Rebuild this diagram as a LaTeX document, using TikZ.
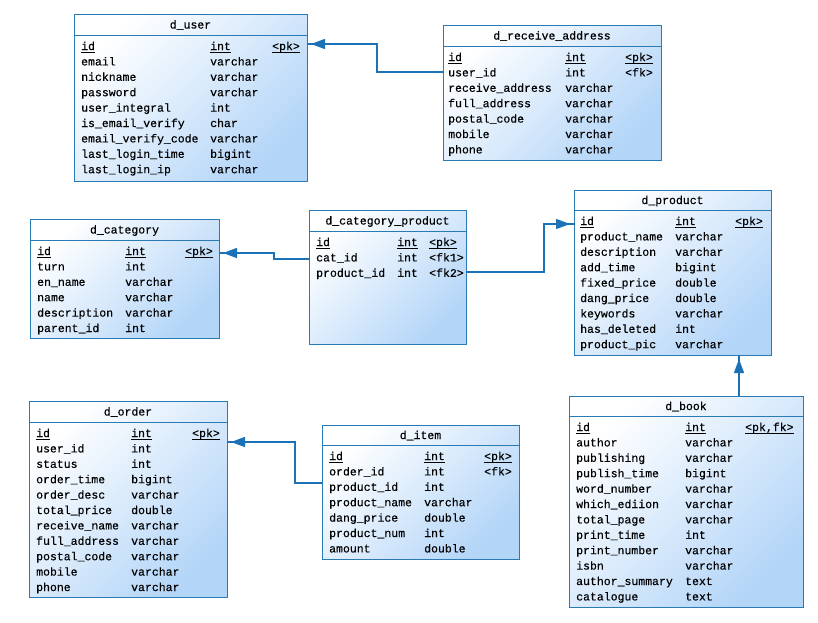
\documentclass[tikz,border=0pt]{standalone}
\usepackage{fontspec}
\setmonofont{Liberation Mono}
\usetikzlibrary{arrows.meta}
\newfontfamily\erfont[FakeBold=0.3]{Liberation Mono}

\definecolor{bordc}{HTML}{2A7AB5}
\definecolor{fillc}{HTML}{B3D5F8}
\definecolor{linec}{HTML}{1B72B6}

% key column text with a rule just under the baseline
\newcommand\keyul[1]{\setbox0\hbox{#1}\rlap{\rule[-2.4pt]{\wd0}{0.6pt}}\box0}

\tikzset{
  tbl/.style={draw=bordc, line width=0.9pt, top color=white, bottom color=fillc,
    shading angle=45, anchor=north west, inner sep=0pt, outer sep=0pt},
  sepline/.style={draw=bordc, line width=0.9pt},
  cell/.style={anchor=base west, inner sep=0pt, font=\erfont\fontsize{11.5}{12}\selectfont},
  ttl/.style={anchor=base, inner sep=0pt, font=\erfont\fontsize{11.5}{12}\selectfont},
  conn/.style={draw=linec, line width=1.4pt,
    postaction={draw=linec, -{Triangle[length=14pt,width=10pt]}, shorten >=4pt}},
}

% box, header rule and title of one table
% #1 name, #2 x1, #3 y1, #4 x2, #5 y2, #6 header rule y, #7 title
\newcommand\ertable[7]{%
  \node[tbl, minimum width={#4-#2}, minimum height={#5-#3}] (#1) at (#2,#3) {};
  \draw[sepline] (#2,#6) -- (#4,#6);
  \node[ttl] (#1-title) at ({(#2+#4)/2},{(#3+#6)/2+4}) {#7};
}

% column rows of one table
% #1 name, #2 x of names, #3 x of types, #4 x of keys, #5 y of first row, #6 rows
\newcommand\errows[6]{%
  \foreach \n/\t/\k [count=\i from 0] in {#6} {
    \node[cell] (#1-n\i) at (#2,{#5+15.4*\i+4}) {\n};
    \node[cell] (#1-t\i) at (#3,{#5+15.4*\i+4}) {\t};
    \if\relax\detokenize\expandafter{\k}\relax\else
      \node[cell] (#1-k\i) at (#4,{#5+15.4*\i+4}) {\k};
    \fi
  }
}

\begin{document}
\begin{tikzpicture}[x=1pt,y=-1pt]
\useasboundingbox (0,0) rectangle (818,622);

% d_user
\ertable{user}{74}{14}{307}{181}{35}{d\_user}
\errows{user}{81}{210}{272}{46}{%
  \keyul{id}/\keyul{int}/\keyul{<pk>},
  email/varchar/,
  nickname/varchar/,
  password/varchar/,
  user\_integral/int/,
  is\_email\_verify/char/,
  email\_verify\_code/varchar/,
  last\_login\_time/bigint/,
  last\_login\_ip/varchar/}

% d_receive_address
\ertable{addr}{443}{25}{661}{160}{46}{d\_receive\_address}
\errows{addr}{448}{565}{625}{57}{%
  \keyul{id}/\keyul{int}/\keyul{<pk>},
  user\_id/int/<fk>,
  receive\_address/varchar/,
  full\_address/varchar/,
  postal\_code/varchar/,
  mobile/varchar/,
  phone/varchar/}

% d_category
\ertable{cat}{30}{219}{219}{338}{240}{d\_category}
\errows{cat}{37}{125}{185}{251}{%
  \keyul{id}/\keyul{int}/\keyul{<pk>},
  turn/int/,
  en\_name/varchar/,
  name/varchar/,
  description/varchar/,
  parent\_id/int/}

% d_category_product
\ertable{catprod}{309}{210}{466}{344}{231}{d\_category\_product}
\errows{catprod}{316}{397}{429}{242}{%
  \keyul{id}/\keyul{int}/\keyul{<pk>},
  cat\_id/int/<fk1>,
  product\_id/int/<fk2>}

% d_product
\ertable{prod}{574}{190}{771}{355}{210}{d\_product}
\errows{prod}{580}{675}{735}{221}{%
  \keyul{id}/\keyul{int}/\keyul{<pk>},
  product\_name/varchar/,
  description/varchar/,
  add\_time/bigint/,
  fixed\_price/double/,
  dang\_price/double/,
  keywords/varchar/,
  has\_deleted/int/,
  product\_pic/varchar/}

% d_order
\ertable{order}{29}{401}{227}{597}{422}{d\_order}
\errows{order}{36}{131}{192}{433}{%
  \keyul{id}/\keyul{int}/\keyul{<pk>},
  user\_id/int/,
  status/int/,
  order\_time/bigint/,
  order\_desc/varchar/,
  total\_price/double/,
  receive\_name/varchar/,
  full\_address/varchar/,
  postal\_code/varchar/,
  mobile/varchar/,
  phone/varchar/}

% d_item
\ertable{item}{322}{425}{519}{559}{445}{d\_item}
\errows{item}{329}{424}{484}{456}{%
  \keyul{id}/\keyul{int}/\keyul{<pk>},
  order\_id/int/<fk>,
  product\_id/int/,
  product\_name/varchar/,
  dang\_price/double/,
  product\_num/int/,
  amount/double/}

% d_book
\ertable{book}{569}{396}{803}{607}{416}{d\_book}
\errows{book}{576}{685}{745}{427}{%
  \keyul{id}/\keyul{int}/\keyul{<pk,fk>},
  author/varchar/,
  publishing/varchar/,
  publish\_time/bigint/,
  word\_number/varchar/,
  which\_ediion/varchar/,
  total\_page/varchar/,
  print\_time/int/,
  print\_number/varchar/,
  isbn/varchar/,
  author\_summary/text/,
  catalogue/text/}

% references
\draw[conn] (addr.west |- 0,72) -- (377,72) -- (377,44) -- (user.east |- 0,44);
\draw[conn] (catprod.west |- 0,259) -- (274,259) -- (274,253) -- (cat.east |- 0,253);
\draw[conn] (catprod.east |- 0,272) -- (544,272) -- (544,224) -- (prod.west |- 0,224);
\draw[conn] (book.north -| 739,0) -- (prod.south -| 739,0);
\draw[conn] (item.west |- 0,483) -- (295,483) -- (295,442) -- (order.east |- 0,442);
\end{tikzpicture}
\end{document}
